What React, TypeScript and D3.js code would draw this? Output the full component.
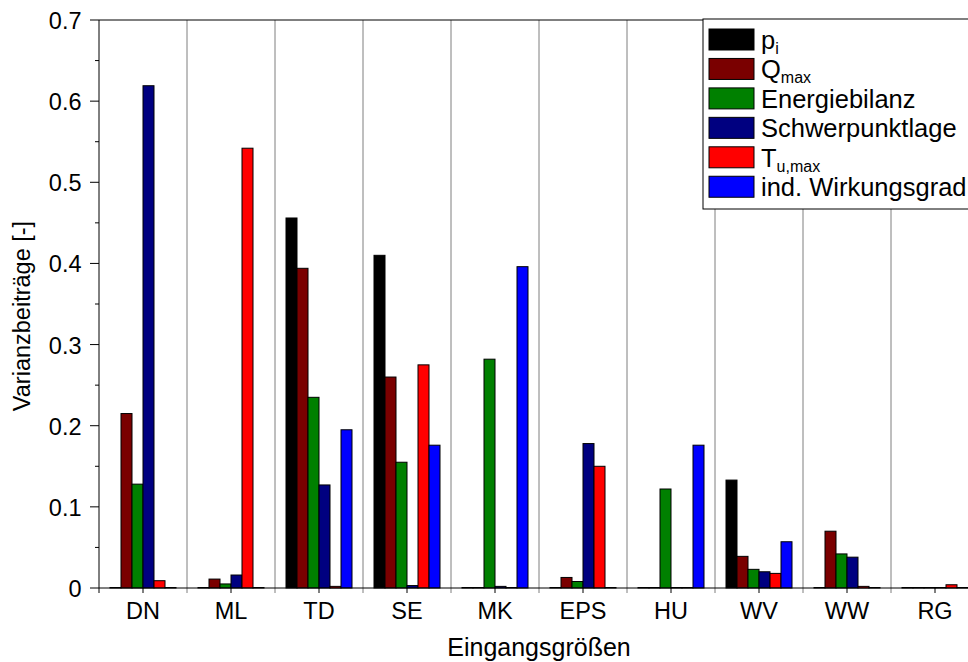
import React from "react";
import * as d3 from "d3";

const categories = ["DN", "ML", "TD", "SE", "MK", "EPS", "HU", "WV", "WW", "RG"];
const seriesKeys = ["pi", "Qmax", "Energiebilanz", "Schwerpunktlage", "Tumax", "ind"];
const seriesColors = ["#000000", "#7a0000", "#008000", "#000080", "#ff0000", "#0000ff"];

const piValues = [0, 0, 0.456, 0.41, 0, 0, 0, 0.133, 0, 0];
const qmaxValues = [0.215, 0.011, 0.394, 0.26, 0, 0.013, 0, 0.039, 0.07, 0];
const energieValues = [0.128, 0.005, 0.235, 0.155, 0.282, 0.008, 0.122, 0.023, 0.042, 0];
const schwerpunktValues = [0.619, 0.016, 0.127, 0.003, 0.002, 0.178, 0, 0.02, 0.038, 0];
const tumaxValues = [0.009, 0.542, 0.002, 0.275, 0, 0.15, 0, 0.018, 0.002, 0.004];
const indValues = [0, 0, 0.195, 0.176, 0.396, 0, 0.176, 0.057, 0, 0];

const seriesValues = [piValues, qmaxValues, energieValues, schwerpunktValues, tumaxValues, indValues];
const yTicks = [0, 0.1, 0.2, 0.3, 0.4, 0.5, 0.6, 0.7];
const yMinorTicks = [0.05, 0.15, 0.25, 0.35, 0.45, 0.55, 0.65];

const FONT = "'Liberation Sans', Arial, Helvetica, sans-serif";

export default function App() {
  const W = 968;
  const H = 662;
  const left = 99;
  const right = 979;
  const top = 20;
  const bottom = 588;

  const x = d3.scaleBand<string>().domain(categories).range([left, right]).padding(0);
  const xi = d3
    .scaleBand<string>()
    .domain(seriesKeys)
    .range([0, x.bandwidth()])
    .paddingInner(0)
    .paddingOuter(1);
  const y = d3.scaleLinear().domain([0, 0.7]).range([bottom, top]);

  const legendX = 703;
  const legendY = 19;
  const legendStep = 29.45;

  const legendLabels: [string, string | null][] = [
    ["p", "i"],
    ["Q", "max"],
    ["Energiebilanz", null],
    ["Schwerpunktlage", null],
    ["T", "u,max"],
    ["ind. Wirkungsgrad", null],
  ];

  return (
    <div style={{ position: "absolute", left: 0, top: 0 }}>
      <svg width={W} height={H} style={{ display: "block", background: "#fff" }} fontFamily={FONT}>
        {/* category separators */}
        {categories.slice(1).map((c) => (
          <line
            key={"sep" + c}
            x1={x(c)!}
            x2={x(c)!}
            y1={top}
            y2={bottom + 5}
            stroke="#7f7f7f"
            strokeWidth={1}
          />
        ))}
        {/* bars */}
        {categories.map((c, ci) =>
          seriesKeys.map((s, si) => {
            const v = seriesValues[si][ci];
            const bx = x(c)! + xi(s)!;
            const h = Math.max(bottom - y(v), 0.5);
            return (
              <rect
                key={c + s}
                x={bx}
                y={bottom - h}
                width={xi.bandwidth()}
                height={h}
                fill={seriesColors[si]}
                stroke="#000"
                strokeWidth={1}
              />
            );
          })
        )}
        {/* axes */}
        <line x1={left} x2={left} y1={top} y2={bottom} stroke="#000" strokeWidth={1} />
        <line x1={left} x2={W} y1={bottom} y2={bottom} stroke="#000" strokeWidth={1} />
        <line x1={left} x2={W} y1={top} y2={top} stroke="#000" strokeWidth={1} />
        {yTicks.map((t) => (
          <g key={"yt" + t}>
            <line x1={left - 9} x2={left} y1={y(t)} y2={y(t)} stroke="#000" />
            <text x={81.5} y={y(t) + 9} textAnchor="end" fontSize={23.5} fill="#000">
              {t === 0 ? "0" : t.toFixed(1)}
            </text>
          </g>
        ))}
        {yMinorTicks.map((t) => (
          <line key={"ym" + t} x1={left - 4} x2={left} y1={y(t)} y2={y(t)} stroke="#000" />
        ))}
        <line x1={left} x2={left} y1={bottom} y2={bottom + 5} stroke="#000" />
        {categories.map((c) => (
          <g key={"xt" + c}>
            <line
              x1={x(c)! + x.bandwidth() / 2}
              x2={x(c)! + x.bandwidth() / 2}
              y1={bottom}
              y2={bottom + 5}
              stroke="#000"
            />
            <text
              x={x(c)! + x.bandwidth() / 2}
              y={618.5}
              textAnchor="middle"
              fontSize={23.5}
              fill="#000"
            >
              {c}
            </text>
          </g>
        ))}
        <text x={(left + right) / 2} y={655.5} textAnchor="middle" fontSize={25} fill="#000">
          Eingangsgrößen
        </text>
        <text
          transform={`translate(30, ${(top + bottom) / 2 + 12}) rotate(-90)`}
          textAnchor="middle"
          fontSize={23.5}
          fill="#000"
        >
          Varianzbeiträge [-]
        </text>
        {/* legend */}
        <rect x={legendX} y={legendY} width={W - legendX + 10} height={190} fill="#fff" stroke="#000" strokeWidth={1} />
        {legendLabels.map(([main, sub], i) => {
          const sy = 29 + i * legendStep;
          return (
            <g key={"lg" + i}>
              <rect x={709} y={sy} width={45} height={21} fill={seriesColors[i]} stroke="#000" strokeWidth={1} />
              <text x={761} y={sy + 20} fontSize={25.5} fill="#000">
                {main}
                {sub && (
                  <tspan fontSize={16} dy={5}>
                    {sub}
                  </tspan>
                )}
              </text>
            </g>
          );
        })}
      </svg>
    </div>
  );
}
